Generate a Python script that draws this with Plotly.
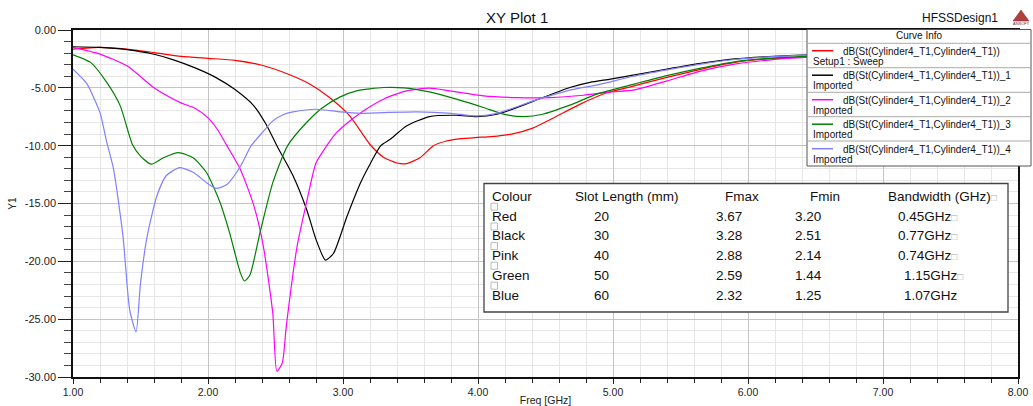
import plotly.graph_objects as go

# ---- S11 sweeps (dB) for each slot length ----
red_f = [1.00, 1.20, 1.40, 1.60, 1.80, 2.00, 2.20, 2.40, 2.60, 2.75, 2.90, 3.05, 3.20, 3.30, 3.40,
         3.47, 3.57, 3.67, 3.76, 3.86, 3.98, 4.10, 4.25, 4.40, 4.55, 4.75, 4.95, 5.15, 5.40, 5.65, 5.90,
         6.15, 6.45, 6.80, 7.20, 7.60, 8.00]
red_db = [-1.65, -1.50, -1.65, -1.95, -2.28, -2.45, -2.62, -3.05, -3.85, -4.65, -5.84, -7.43, -9.90, -11.0, -11.5,
          -11.55, -11.05, -10.0, -9.62, -9.42, -9.30, -9.22, -9.00, -8.50, -7.65, -6.45, -5.45, -4.85, -4.10, -3.40, -2.80,
          -2.50, -2.30, -2.15, -2.05, -1.95, -1.90]

black_f = [1.00, 1.20, 1.40, 1.60, 1.75, 1.90, 2.05, 2.20, 2.34, 2.43, 2.51, 2.63, 2.73, 2.80, 2.87,
           2.93, 3.03, 3.13, 3.20, 3.28, 3.35, 3.47, 3.64, 3.84, 3.99, 4.14, 4.29, 4.48, 4.68, 4.83,
           4.98, 5.15, 5.40, 5.65, 5.90, 6.15, 6.45, 6.80, 7.20, 7.60, 8.00]
black_db = [-1.45, -1.50, -1.70, -2.10, -2.60, -3.25, -4.05, -5.15, -6.56, -8.15, -10.0, -12.6, -15.5, -18.1, -19.9,
            -19.3, -16.1, -13.2, -11.6, -10.0, -9.45, -8.30, -7.49, -7.37, -7.49, -7.28, -6.70, -5.84, -4.97, -4.53,
            -4.25, -3.90, -3.38, -2.89, -2.50, -2.30, -2.14, -2.00, -1.90, -1.85, -1.80]

pink_f = [1.00, 1.20, 1.40, 1.60, 1.72, 1.80, 1.90, 2.00, 2.07, 2.14, 2.24, 2.34, 2.41, 2.48, 2.51,
          2.55, 2.58, 2.66, 2.73, 2.80, 2.88, 2.95, 3.05, 3.17, 3.30, 3.47, 3.64, 3.79, 4.04, 4.29,
          4.53, 4.78, 4.98, 5.15, 5.40, 5.65, 5.90, 6.15, 6.45, 6.80, 7.20, 7.60, 8.00]
pink_db = [-1.50, -2.08, -3.10, -5.00, -5.84, -6.30, -6.75, -7.60, -8.60, -10.0, -12.05, -15.2, -18.7, -24.5, -29.5,
           -28.8, -25.6, -18.7, -14.9, -11.5, -10.0, -8.90, -7.86, -6.85, -5.98, -5.26, -5.03, -5.26, -5.70, -5.84,
           -5.84, -5.64, -5.35, -5.20, -4.40, -3.55, -2.95, -2.60, -2.35, -2.20, -2.05, -1.95, -1.90]

green_f = [1.00, 1.13, 1.25, 1.35, 1.44, 1.50, 1.58, 1.67, 1.78, 1.89, 1.99, 2.09, 2.16, 2.24, 2.27,
           2.31, 2.385, 2.48, 2.59, 2.73, 2.85, 2.98, 3.10, 3.30, 3.45, 3.64, 3.84, 4.04, 4.19, 4.34,
           4.48, 4.68, 4.88, 5.15, 5.40, 5.65, 5.90, 6.15, 6.45, 6.80, 7.20, 7.60, 8.00]
green_db = [-2.14, -2.80, -4.53, -6.56, -9.90, -10.9, -11.6, -11.04, -10.6, -11.04, -12.34, -14.94, -17.54, -21.0, -21.7,
            -21.2, -17.54, -13.2, -10.0, -8.00, -6.70, -5.78, -5.26, -4.97, -5.00, -5.35, -5.98, -6.70, -7.28, -7.49,
            -7.28, -6.50, -5.55, -4.70, -3.95, -3.30, -2.75, -2.45, -2.25, -2.10, -2.00, -1.90, -1.85]

blue_f = [1.00, 1.10, 1.20, 1.25, 1.30, 1.37, 1.42, 1.467, 1.50, 1.55, 1.62, 1.69, 1.79, 1.89, 1.99,
          2.06, 2.14, 2.24, 2.32, 2.40, 2.48, 2.56, 2.63, 2.80, 2.98, 3.13, 3.30, 3.55, 3.80, 3.99,
          4.16, 4.41, 4.66, 4.90, 5.15, 5.40, 5.65, 5.90, 6.15, 6.45, 6.80, 7.20, 7.60, 8.00]
blue_db = [-3.38, -4.60, -7.14, -9.70, -12.0, -17.8, -24.2, -26.1, -21.9, -17.8, -14.4, -12.6, -11.9, -12.3, -13.2,
           -13.7, -13.35, -11.8, -10.0, -8.90, -7.86, -7.30, -7.08, -6.85, -7.08, -7.20, -7.14, -7.08, -7.20, -7.43,
           -7.14, -6.13, -5.26, -4.70, -4.00, -3.45, -2.95, -2.55, -2.32, -2.15, -2.00, -1.90, -1.85, -1.80]

series_names = ["dB(St(Cylinder4_T1,Cylinder4_T1))", "dB(St(Cylinder4_T1,Cylinder4_T1))_1",
                "dB(St(Cylinder4_T1,Cylinder4_T1))_2", "dB(St(Cylinder4_T1,Cylinder4_T1))_3",
                "dB(St(Cylinder4_T1,Cylinder4_T1))_4"]
series_sources = ["Setup1 : Sweep", "Imported", "Imported", "Imported", "Imported"]
series_colors = ["#ff0000", "#000000", "#ff00ff", "#008000", "#8080ff"]
series_x = [red_f, black_f, pink_f, green_f, blue_f]
series_y = [red_db, black_db, pink_db, green_db, blue_db]

# ---- summary table ----
table_header = ["Colour", "Slot Length (mm)", "Fmax", "Fmin", "Bandwidth (GHz)"]
colour_names = ["Red", "Black", "Pink", "Green", "Blue"]
slot_length = ["20", "30", "40", "50", "60"]
f_max = ["3.67", "3.28", "2.88", "2.59", "2.32"]
f_min = ["3.20", "2.51", "2.14", "1.44", "1.25"]
bandwidth = ["0.45GHz", "0.77GHz", "0.74GHz", "1.15GHz", "1.07GHz"]
bw_box = [True, True, True, True, False]

# ---- axis ticks ----
x_ticks = [1, 2, 3, 4, 5, 6, 7, 8]
x_labels = ["1.00", "2.00", "3.00", "4.00", "5.00", "6.00", "7.00", "8.00"]
y_ticks = [0, -5, -10, -15, -20, -25, -30]
y_labels = ["0.00", "-5.00", "-10.00", "-15.00", "-20.00", "-25.00", "-30.00"]

W, H = 1033, 406
L, R, T, B = 73, 1018, 30, 377
FONT = "Liberation Sans, Arial, sans-serif"
NARROW = "Liberation Sans Narrow, Arial Narrow, Liberation Sans, sans-serif"


def px(x):
    return (x - L) / (R - L)


def py(y):
    return (B - y) / (B - T)


def label(text, x, y, size, anchor="left", family=FONT, color="#111"):
    return dict(text=text, x=px(x), y=py(y), xref="paper", yref="paper",
                xanchor=anchor, yanchor="middle", showarrow=False,
                font=dict(family=family, size=size, color=color))


fig = go.Figure()
for name, xs, ys, col in zip(series_names, series_x, series_y, series_colors):
    fig.add_trace(go.Scatter(x=xs, y=ys, mode="lines", name=name,
                             line=dict(color=col, width=1.2, shape="spline", smoothing=0.6),
                             showlegend=False))

shapes = []
annotations = []

# title and design name
annotations.append(label("XY Plot 1", 517, 17, 15, anchor="center"))
annotations.append(label("HFSSDesign1", 960, 18, 12, anchor="center"))
# small logo mark
shapes.append(dict(type="path", xref="paper", yref="paper", layer="above",
                   path=f"M {px(1013)} {py(21)} L {px(1021)} {py(10)} L {px(1029)} {py(21)} Z",
                   fillcolor="#b04040", line=dict(color="#802020", width=0.5)))
annotations.append(label("ANSOFT", 1021, 23.5, 4, anchor="center", color="#802020"))

# curve info box
box_l, box_r, box_t, box_b = 807, 1031, 29.5, 166
shapes.append(dict(type="rect", xref="paper", yref="paper", layer="above",
                   x0=px(box_l), x1=px(box_r), y0=py(box_b), y1=py(box_t),
                   fillcolor="white", line=dict(color="#555", width=1)))
annotations.append(label("Curve Info", (box_l + box_r) / 2, 36, 10, anchor="center"))
sep_y = [43.3, 67.7, 92.3, 116.7, 141.0]
for yy in sep_y:
    shapes.append(dict(type="line", xref="paper", yref="paper", layer="above",
                       x0=px(box_l), x1=px(box_r), y0=py(yy), y1=py(yy),
                       line=dict(color="#aaa", width=1)))
for i, (name, src, col) in enumerate(zip(series_names, series_sources, series_colors)):
    y1 = 50.7 + i * 24.5
    shapes.append(dict(type="line", xref="paper", yref="paper", layer="above",
                       x0=px(812), x1=px(833), y0=py(y1), y1=py(y1),
                       line=dict(color=col, width=1.5)))
    annotations.append(label(name, 841, y1 + 0.5, 10))
    annotations.append(label(src, 811, y1 + 10.5, 10))

# summary table
tb_l, tb_r, tb_t, tb_b = 484, 1008, 183.5, 312
shapes.append(dict(type="rect", xref="paper", yref="paper", layer="above",
                   x0=px(tb_l), x1=px(tb_r), y0=py(tb_b), y1=py(tb_t),
                   fillcolor="white", line=dict(color="#444", width=1.3)))
row_y = [196.2, 216.0, 235.6, 255.2, 275.2, 295.8]
head_x = [489.5, 573, 722.7, 808, 885.7]
col_x = [489.5, 591.5, 713.5, 792.7, 895.8]
bw_shift = [0, 0, 0, 6, 6]
BOX = "<span style='font-size:10px;color:#aaa'>□</span>"
for j, (h, xx) in enumerate(zip(table_header, head_x)):
    txt = h + (BOX if j == len(table_header) - 1 else "")
    annotations.append(label(txt, xx, row_y[0], 13.5))
for i in range(len(colour_names)):
    cells = [colour_names[i], slot_length[i], f_max[i], f_min[i],
             bandwidth[i] + (BOX if bw_box[i] else "")]
    for j, (c, xx) in enumerate(zip(cells, col_x)):
        if j == 4:
            xx += bw_shift[i]
        annotations.append(label(c, xx, row_y[i + 1], 13.5))
for i in range(5):
    y0 = row_y[i] + 7
    shapes.append(dict(type="rect", xref="paper", yref="paper", layer="above",
                       x0=px(491), x1=px(497.5), y0=py(y0 + 7), y1=py(y0),
                       fillcolor="white", line=dict(color="#aaa", width=0.8)))

fig.update_layout(
    width=W, height=H,
    margin=dict(l=L, r=W - R, t=T, b=H - B, pad=0, autoexpand=False),
    paper_bgcolor="white", plot_bgcolor="white",
    font=dict(family=FONT, size=10, color="#222"),
    shapes=shapes, annotations=annotations,
    xaxis=dict(range=[1, 8], tickmode="array", tickvals=x_ticks, ticktext=x_labels,
               ticks="outside", ticklen=5, tickwidth=1, tickcolor="#222", automargin=False,
               tickfont=dict(family=NARROW, size=10.5, color="#222"),
               showline=True, linecolor="#111", linewidth=1.5, mirror=True,
               showgrid=True, gridcolor="#c4c4c4", gridwidth=1, zeroline=False,
               minor=dict(tickmode="linear", tick0=1, dtick=0.2, ticks="outside", ticklen=4,
                          tickcolor="#222", showgrid=True, gridcolor="#e6e6e6", gridwidth=1),
               title=dict(text="Freq [GHz]", standoff=2,
                          font=dict(family=NARROW, size=10.5, color="#222"))),
    yaxis=dict(range=[-30, 0], tickmode="array", tickvals=y_ticks, ticktext=y_labels,
               ticks="outside", ticklen=13, tickwidth=1.2, tickcolor="#222", automargin=False,
               tickfont=dict(family=FONT, size=11, color="#222"),
               showline=True, linecolor="#111", linewidth=1.5, mirror=True,
               showgrid=True, gridcolor="#c4c4c4", gridwidth=1, zeroline=False,
               minor=dict(tickmode="linear", tick0=0, dtick=1, ticks="outside", ticklen=7,
                          tickcolor="#444", showgrid=True, gridcolor="#e6e6e6", gridwidth=1),
               title=dict(text="Y1", standoff=6, font=dict(family=FONT, size=10, color="#222"))),
)

fig.write_html("out.html")
